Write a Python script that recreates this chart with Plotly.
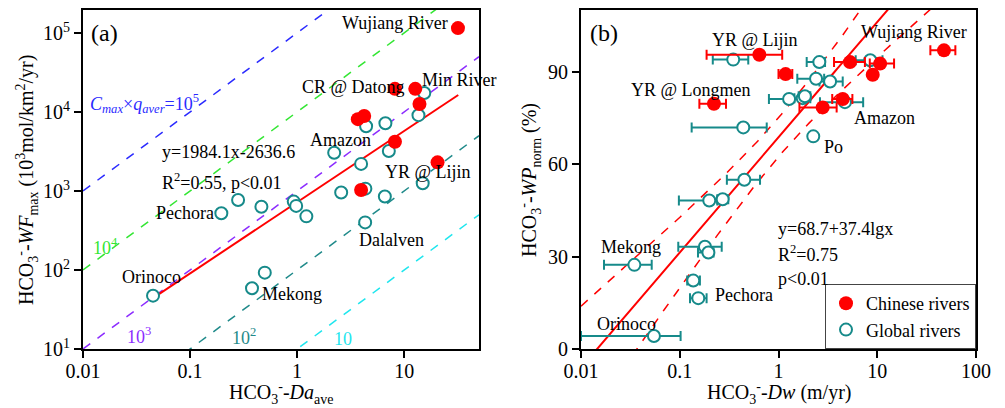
import numpy as np
import plotly.graph_objects as go

# ---------------- data: panel (a) ----------------
a_cn_x = [31.8, 12.7, 8.2, 13.9, 3.69, 4.23, 8.2, 20.5, 3.96]
a_cn_y = [1.15e5, 1.96e4, 1.96e4, 1.26e4, 8.1e3, 8.9e3, 4.2e3, 2.3e3, 1.03e3]
a_gl_x = [15.4, 13.6, 4.41, 6.68, 2.22, 7.19, 3.96, 14.9, 4.34, 2.58, 6.6, 4.32,
          0.281, 0.464, 0.196, 0.93, 0.98, 1.22, 0.499, 0.379, 0.0451]
a_gl_y = [1.74e4, 9.1e3, 6.6e3, 7.2e3, 3.05e3, 3.2e3, 2.2e3, 1.25e3, 1.07e3, 955, 850, 400,
          769, 630, 523, 733, 647, 477, 92.5, 58.6, 47.3]
a_fit_x = [0.045, 32.0]
a_fit_y = [44.0, 1.64e4]
iso_consts = [1e5, 1e4, 1e3, 1e2, 10]
iso_colors = ["#2a2aff", "#33e633", "#8c2cff", "#1f8a8a", "#1ee6ee"]
a_xticks = [0.01, 0.1, 1, 10]
a_xticklabels = ["0.01", "0.1", "1", "10"]
a_yticks = [10, 100, 1e3, 1e4, 1e5]
a_yticklabels = ["10<sup>1</sup>", "10<sup>2</sup>", "10<sup>3</sup>", "10<sup>4</sup>", "10<sup>5</sup>"]

# ---------------- data: panel (b) ----------------
b_cn_x = [47.4, 0.64, 1.18, 5.30, 10.7, 9.0, 4.47, 2.80, 0.222]
b_cn_y = [96.9, 95.5, 89.2, 93.1, 92.6, 89.0, 81.1, 78.4, 79.6]
b_cn_lo = [34.5, 0.187, 1.0, 3.65, 8.4, 8.3, 3.5, 1.63, 0.158]
b_cn_hi = [61.8, 1.09, 1.38, 7.5, 14.8, 9.8, 5.6, 3.88, 0.294]

b_gl_x = [0.348, 2.59, 8.5, 2.40, 3.33, 1.28, 1.76, 1.85, 4.71, 2.25, 0.44, 0.451,
          0.199, 0.272, 0.180, 0.195, 0.0347, 0.137, 0.154, 0.0548]
b_gl_y = [93.9, 93.1, 93.7, 87.7, 86.8, 81.1, 81.4, 82.0, 80.1, 69.0, 71.9, 54.9,
          48.2, 48.6, 33.2, 31.3, 27.3, 22.2, 16.5, 4.2]
b_gl_lo = [0.216, 1.93, 6.05, 1.55, 2.6, 0.80, 1.45, 1.6, 2.63, 2.25, 0.132, 0.30,
           0.098, 0.24, 0.0966, 0.153, 0.0171, 0.119, 0.127, 0.010]
b_gl_hi = [0.494, 2.96, 11.3, 2.9, 4.47, 1.78, 2.1, 2.1, 7.2, 2.25, 0.76, 0.65,
           0.24, 0.31, 0.266, 0.22, 0.052, 0.16, 0.187, 0.102]
b_fit_a, b_fit_b = 68.7, 37.4          # y = a + b*lg(x)
b_band_c0, b_band_c1 = 40.0, 90.0      # half-width^2 = c0 + c1*lg(x)^2
b_xticks = [0.01, 0.1, 1, 10, 100]
b_xticklabels = ["0.01", "0.1", "1", "10", "100"]
b_yticks = [0, 30, 60, 90]

RED = "#ff0000"
TEAL = "#168a8a"
FONT = "Liberation Serif, Times New Roman, serif"
W, H = 1005, 408

def px(x):
    return x / W

def py(y):
    return 1 - y / H

fig = go.Figure()

# iso lines (a)
iso_x = np.array([0.01, 50.0])
for c, col in zip(iso_consts, iso_colors):
    fig.add_trace(go.Scatter(x=iso_x, y=c * iso_x, mode="lines",
                             line=dict(color=col, width=1.5, dash="dash"),
                             showlegend=False, xaxis="x", yaxis="y", hoverinfo="skip"))
# fit (a)
fig.add_trace(go.Scatter(x=a_fit_x, y=a_fit_y, mode="lines", line=dict(color=RED, width=2),
                         showlegend=False, xaxis="x", yaxis="y"))
fig.add_trace(go.Scatter(x=a_gl_x, y=a_gl_y, mode="markers",
                         marker=dict(size=12, color="white", line=dict(color=TEAL, width=2)),
                         showlegend=False, xaxis="x", yaxis="y"))
fig.add_trace(go.Scatter(x=a_cn_x, y=a_cn_y, mode="markers",
                         marker=dict(size=14, color=RED),
                         showlegend=False, xaxis="x", yaxis="y"))

# regression and confidence band (b)
lg = np.linspace(-2.0, 2.0, 200)
yfit = b_fit_a + b_fit_b * lg
half = np.sqrt(b_band_c0 + b_band_c1 * lg ** 2)
fig.add_trace(go.Scatter(x=10 ** lg, y=yfit, mode="lines", line=dict(color=RED, width=2),
                         showlegend=False, xaxis="x2", yaxis="y2"))
for sgn in (1, -1):
    fig.add_trace(go.Scatter(x=10 ** lg, y=yfit + sgn * half, mode="lines",
                             line=dict(color=RED, width=1.5, dash="dash"),
                             showlegend=False, xaxis="x2", yaxis="y2"))

gx = np.array(b_gl_x)
fig.add_trace(go.Scatter(x=b_gl_x, y=b_gl_y, mode="markers",
                         marker=dict(size=12, color="white", line=dict(color=TEAL, width=2)),
                         error_x=dict(type="data", symmetric=False,
                                      array=list(np.array(b_gl_hi) - gx),
                                      arrayminus=list(gx - np.array(b_gl_lo)),
                                      color=TEAL, thickness=2, width=5),
                         showlegend=False, xaxis="x2", yaxis="y2"))
cx = np.array(b_cn_x)
fig.add_trace(go.Scatter(x=b_cn_x, y=b_cn_y, mode="markers",
                         marker=dict(size=14, color=RED),
                         error_x=dict(type="data", symmetric=False,
                                      array=list(np.array(b_cn_hi) - cx),
                                      arrayminus=list(cx - np.array(b_cn_lo)),
                                      color=RED, thickness=2, width=5),
                         showlegend=False, xaxis="x2", yaxis="y2"))

# legend entries
fig.add_trace(go.Scatter(x=[None], y=[None], mode="markers", name="Chinese rivers",
                         marker=dict(size=14, color=RED), xaxis="x2", yaxis="y2"))
fig.add_trace(go.Scatter(x=[None], y=[None], mode="markers", name="Global rivers",
                         marker=dict(size=12, color="white", line=dict(color=TEAL, width=2)),
                         xaxis="x2", yaxis="y2"))

axis_common = dict(showline=True, linecolor="black", linewidth=2, mirror=True,
                   ticks="outside", ticklen=7, tickwidth=2, tickcolor="black",
                   showgrid=False, zeroline=False, automargin=False,
                   tickfont=dict(family=FONT, size=20, color="black"))

fig.update_layout(
    template="none",
    width=W, height=H, margin=dict(l=0, r=0, t=0, b=0, pad=0, autoexpand=False),
    paper_bgcolor="white", plot_bgcolor="white",
    font=dict(family=FONT, size=18, color="black"),
    xaxis=dict(type="log", range=[-2, np.log10(50)], domain=[px(83), px(479)],
               tickvals=a_xticks, ticktext=a_xticklabels, anchor="y",
               ticklabelstandoff=-4, **axis_common),
    yaxis=dict(type="log", range=[1, 5.29], domain=[py(349), py(10)],
               tickvals=a_yticks, ticktext=a_yticklabels, anchor="x", **axis_common),
    xaxis2=dict(type="log", range=[-2, 2], domain=[px(581), px(976)],
                tickvals=b_xticks, ticktext=b_xticklabels, anchor="y2",
                ticklabelstandoff=-4, **axis_common),
    yaxis2=dict(range=[0, 110], domain=[py(349), py(10)],
                tickvals=b_yticks, anchor="x2", **axis_common),
    legend=dict(x=px(976), y=py(349), xanchor="right", yanchor="bottom",
                bordercolor="#444", borderwidth=1, bgcolor="white",
                font=dict(family=FONT, size=18, color="black"), tracegroupgap=0),
    showlegend=True,
)

def txt(x, y, s, size=18, color="black", xanchor="left", angle=0):
    fig.add_annotation(x=px(x), y=py(y), xref="paper", yref="paper", text=s,
                       showarrow=False, xanchor=xanchor, yanchor="middle",
                       textangle=angle, font=dict(family=FONT, size=size, color=color))

# panel (a) texts
txt(104, 33, "(a)", size=24, xanchor="center")
txt(450, 23, "Wujiang River", xanchor="right")
txt(300, 87, "CR @ Datong")
txt(420, 80, "Min River")
txt(308, 140, "Amazon")
txt(383, 172, "YR @ Lijin")
txt(154, 213, "Pechora")
txt(120, 277, "Orinoco")
txt(260, 294, "Mekong")
txt(357, 240, "Dalalven")
txt(160, 152, "y=1984.1x-2636.6")
txt(160, 181, "R<sup>2</sup>=0.55, p&lt;0.01")
txt(88, 103, "<i>C</i><sub><i>max</i></sub>×<i>q</i><sub><i>aver</i></sub>=10<sup>5</sup>", color=iso_colors[0])
txt(91, 246, "10<sup>4</sup>", color=iso_colors[1])
txt(125, 335, "10<sup>3</sup>", color=iso_colors[2])
txt(230, 336, "10<sup>2</sup>", color=iso_colors[3])
txt(332, 339, "10", color=iso_colors[4])
txt(281, 393, "HCO<sub>3</sub><sup>-</sup>-<i>Da</i><sub>ave</sub>", size=20, xanchor="center")
txt(27, 180, "HCO<sub>3</sub><sup>-</sup>-<i>WF</i><sub>max</sub> (10<sup>3</sup>mol/km<sup>2</sup>/yr)",
    size=20, xanchor="center", angle=-90)

# panel (b) texts
txt(604, 33, "(b)", size=24, xanchor="center")
txt(710, 40, "YR @ Lijin")
txt(629, 90, "YR @ Longmen")
txt(859, 32, "Wujiang River")
txt(852, 118, "Amazon")
txt(822, 147, "Po")
txt(599, 247, "Mekong")
txt(713, 295, "Pechora")
txt(595, 324, "Orinoco")
txt(776, 229, "y=68.7+37.4lgx")
txt(776, 253, "R<sup>2</sup>=0.75")
txt(776, 279, "p&lt;0.01")
txt(779, 393, "HCO<sub>3</sub><sup>-</sup>-<i>Dw</i> (m/yr)", size=20, xanchor="center")
txt(530, 180, "HCO<sub>3</sub><sup>-</sup>-<i>WP</i><sub>norm</sub> (%)", size=20, xanchor="center", angle=-90)

fig.write_html("out.html")
